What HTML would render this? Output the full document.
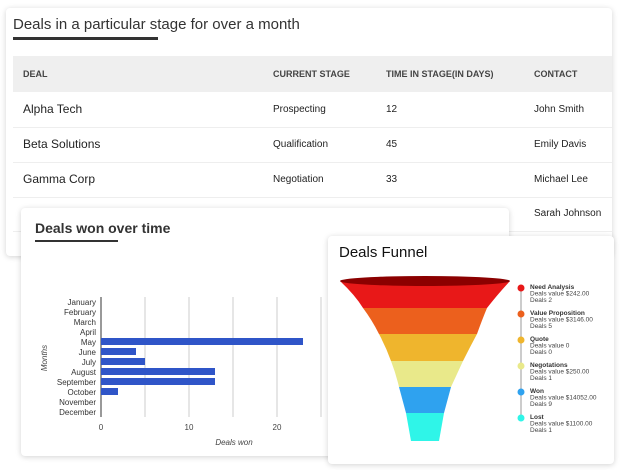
<!DOCTYPE html>
<html><head><meta charset="utf-8"><style>
body{margin:0;width:620px;height:470px;background:#fff;position:relative;overflow:hidden;font-family:"Liberation Sans",sans-serif;color:#222}
.card{position:absolute;background:#fff;border-radius:4px;box-shadow:0 1px 6px rgba(0,0,0,.18)}
.t{position:absolute;white-space:nowrap}
</style></head><body>
<div class="card" style="left:6px;top:8px;width:606px;height:248px"></div>
<div class="t" style="left:13px;top:16px;font-size:15px;color:#333">Deals in a particular stage for over a month</div>
<div style="position:absolute;left:13px;top:37px;width:145px;height:3px;background:#333"></div>
<div style="position:absolute;left:13px;top:56px;width:599px;height:36px;background:#efefef"></div>
<div class="t" style="left:23px;top:69px;font-size:9px;font-weight:bold;color:#444">DEAL</div>
<div class="t" style="left:273px;top:69px;font-size:9px;font-weight:bold;color:#444">CURRENT STAGE</div>
<div class="t" style="left:386px;top:69px;font-size:9px;font-weight:bold;color:#444">TIME IN STAGE(IN DAYS)</div>
<div class="t" style="left:534px;top:69px;font-size:9px;font-weight:bold;color:#444">CONTACT</div>
<div style="position:absolute;left:13px;top:127px;width:599px;height:1px;background:#eee"></div>
<div style="position:absolute;left:13px;top:162px;width:599px;height:1px;background:#eee"></div>
<div style="position:absolute;left:13px;top:197px;width:599px;height:1px;background:#eee"></div>
<div style="position:absolute;left:13px;top:231px;width:599px;height:1px;background:#eee"></div>
<div class="t" style="left:23px;top:102px;font-size:12px">Alpha Tech</div>
<div class="t" style="left:273px;top:104px;font-size:10px">Prospecting</div>
<div class="t" style="left:386px;top:104px;font-size:10px">12</div>
<div class="t" style="left:534px;top:104px;font-size:10px">John Smith</div>
<div class="t" style="left:23px;top:137px;font-size:12px">Beta Solutions</div>
<div class="t" style="left:273px;top:139px;font-size:10px">Qualification</div>
<div class="t" style="left:386px;top:139px;font-size:10px">45</div>
<div class="t" style="left:534px;top:139px;font-size:10px">Emily Davis</div>
<div class="t" style="left:23px;top:172px;font-size:12px">Gamma Corp</div>
<div class="t" style="left:273px;top:174px;font-size:10px">Negotiation</div>
<div class="t" style="left:386px;top:174px;font-size:10px">33</div>
<div class="t" style="left:534px;top:174px;font-size:10px">Michael Lee</div>
<div class="t" style="left:534px;top:208px;font-size:10px">Sarah Johnson</div>

<div class="card" style="left:21px;top:208px;width:488px;height:248px"></div>
<div class="t" style="left:35px;top:220px;font-size:14px;font-weight:bold;color:#333">Deals won over time</div>
<div style="position:absolute;left:35px;top:240px;width:83px;height:2px;background:#333"></div>
<svg style="position:absolute;left:0;top:0" width="620" height="470">
<g stroke="#ccc" stroke-width="1"><line x1="145" y1="297" x2="145" y2="417"/><line x1="189" y1="297" x2="189" y2="417"/><line x1="233" y1="297" x2="233" y2="417"/><line x1="277" y1="297" x2="277" y2="417"/><line x1="321" y1="297" x2="321" y2="417"/></g>
<line x1="101" y1="297" x2="101" y2="417" stroke="#333"/>
<g fill="#2f55c8"><rect x="101" y="369" width="202" height="7" transform="translate(0,-31)"/><rect x="101" y="348" width="35" height="7"/><rect x="101" y="358" width="44" height="7"/><rect x="101" y="368" width="114" height="7"/><rect x="101" y="378" width="114" height="7"/><rect x="101" y="388" width="17" height="7"/></g>
<g font-family="Liberation Sans" font-size="8" fill="#333" text-anchor="end">
<text x="96" y="305">January</text><text x="96" y="315">February</text><text x="96" y="325">March</text><text x="96" y="335">April</text><text x="96" y="345">May</text><text x="96" y="355">June</text><text x="96" y="365">July</text><text x="96" y="375">August</text><text x="96" y="385">September</text><text x="96" y="395">October</text><text x="96" y="405">November</text><text x="96" y="415">December</text></g>
<g font-family="Liberation Sans" font-size="8" fill="#444" text-anchor="middle"><text x="101" y="430">0</text><text x="189" y="430">10</text><text x="277" y="430">20</text>
<text x="234" y="445" font-style="italic">Deals won</text>
<text transform="translate(47,358) rotate(-90)" font-style="italic">Months</text></g>
</svg>

<div class="card" style="left:328px;top:236px;width:286px;height:228px"></div>
<div class="t" style="left:339px;top:244px;font-size:15px;color:#111">Deals Funnel</div>
<svg style="position:absolute;left:0;top:0" width="620" height="470">
<path d="M340 281 Q355 295 363 308 L487 308 Q497 295 510 281 Z" fill="#e81818"/>
<ellipse cx="425" cy="281" rx="85" ry="5" fill="#8b0000"/>
<path d="M363 308 Q372 320 379 334 L477 334 Q482 320 487 308 Z" fill="#ec601d"/>
<path d="M379 334 Q386 347 391 361 L463 361 Q470 347 477 334 Z" fill="#efb52d"/>
<path d="M391 361 Q396 374 399 387 L451 387 Q457 374 463 361 Z" fill="#e9e98a"/>
<path d="M399 387 L406 413 L444 413 L451 387 Z" fill="#2fa2ef"/>
<path d="M406 413 L411 441 L439 441 L444 413 Z" fill="#2ff5e8"/>
<line x1="521" y1="288" x2="521" y2="418" stroke="#ccc" stroke-width="2"/>
<g><circle cx="521" cy="288" r="3.5" fill="#e81818"/><circle cx="521" cy="314" r="3.5" fill="#ec601d"/><circle cx="521" cy="340" r="3.5" fill="#efb52d"/><circle cx="521" cy="366" r="3.5" fill="#e9e98a"/><circle cx="521" cy="392" r="3.5" fill="#2fa2ef"/><circle cx="521" cy="418" r="3.5" fill="#2ff5e8"/></g>
<g font-family="Liberation Sans" font-size="6.5" fill="#444">
<text x="530" y="289" font-weight="bold" fill="#333">Need Analysis</text><text x="530" y="295.5">Deals value $242.00</text><text x="530" y="302">Deals 2</text>
<text x="530" y="315" font-weight="bold" fill="#333">Value Proposition</text><text x="530" y="321.5">Deals value $3146.00</text><text x="530" y="328">Deals 5</text>
<text x="530" y="341" font-weight="bold" fill="#333">Quote</text><text x="530" y="347.5">Deals value 0</text><text x="530" y="354">Deals 0</text>
<text x="530" y="367" font-weight="bold" fill="#333">Negotations</text><text x="530" y="373.5">Deals value $250.00</text><text x="530" y="380">Deals 1</text>
<text x="530" y="393" font-weight="bold" fill="#333">Won</text><text x="530" y="399.5">Deals value $14052.00</text><text x="530" y="406">Deals 9</text>
<text x="530" y="419" font-weight="bold" fill="#333">Lost</text><text x="530" y="425.5">Deals value $1100.00</text><text x="530" y="432">Deals 1</text>
</g></svg>
</body></html>
